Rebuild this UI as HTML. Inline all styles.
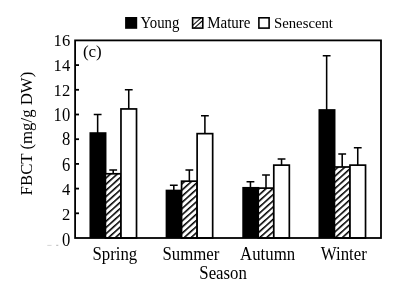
<!DOCTYPE html>
<html><head><meta charset="utf-8">
<style>
html,body{margin:0;padding:0;background:#fff;}
svg{display:block;}
text{font-family:"Liberation Serif","Times New Roman",serif;fill:#000;}
</style></head><body>
<svg width="411" height="289" viewBox="0 0 411 289">
<defs>
<pattern id="h" width="4" height="4.6" patternUnits="userSpaceOnUse" patternTransform="rotate(-42)">
<rect width="4" height="4.6" fill="#fff"/>
<rect y="0" width="4" height="1.55" fill="#000"/>
</pattern>
<pattern id="h2" width="6" height="14" patternUnits="userSpaceOnUse" patternTransform="translate(197.75,22.9) rotate(-42)">
<rect width="6" height="14" fill="#fff"/>
<rect y="1.0" width="6" height="1.1" fill="#000"/>
<rect y="11.9" width="6" height="1.1" fill="#000"/>
<rect y="4.4" width="6" height="0.8" fill="#aaa"/>
<rect y="8.8" width="6" height="0.8" fill="#aaa"/>
</pattern>
</defs>
<rect width="411" height="289" fill="#fff"/>
<rect x="125.1" y="17.0" width="12.1" height="11.8" fill="#000"/>
<text transform="translate(140.60,28.40) scale(1.0,1.07)" font-size="14.8" text-anchor="start">Young</text>
<rect x="192.6" y="17.8" width="10.2" height="10.3" fill="url(#h2)" stroke="#000" stroke-width="1.6"/>
<text transform="translate(207.20,28.40) scale(1.0,1.07)" font-size="15.0" text-anchor="start">Mature</text>
<rect x="258.9" y="17.8" width="10.2" height="10.3" fill="#fff" stroke="#000" stroke-width="1.6"/>
<text transform="translate(274.00,28.30) scale(1.0,1.06)" font-size="14.75" text-anchor="start">Senescent</text>
<rect x="89.47" y="132.22" width="17.00" height="105.77" fill="#000"/>
<path d="M97.65 133.03V114.50M93.75 114.50H101.55" stroke="#000" stroke-width="1.55" fill="none"/>
<rect x="105.42" y="173.78" width="15.55" height="64.22" fill="url(#h)" stroke="#000" stroke-width="1.7"/>
<path d="M113.20 173.78V170.07M109.30 170.07H117.10" stroke="#000" stroke-width="1.55" fill="none"/>
<rect x="120.97" y="108.94" width="15.55" height="129.06" fill="#fff" stroke="#000" stroke-width="1.7"/>
<path d="M128.75 108.94V89.80M124.85 89.80H132.65" stroke="#000" stroke-width="1.55" fill="none"/>
<rect x="165.62" y="189.65" width="17.00" height="48.35" fill="#000"/>
<path d="M173.80 190.45V185.27M169.90 185.27H177.70" stroke="#000" stroke-width="1.55" fill="none"/>
<rect x="181.57" y="181.19" width="15.55" height="56.81" fill="url(#h)" stroke="#000" stroke-width="1.7"/>
<path d="M189.35 181.19V170.07M185.45 170.07H193.25" stroke="#000" stroke-width="1.55" fill="none"/>
<rect x="197.12" y="133.64" width="15.55" height="104.36" fill="#fff" stroke="#000" stroke-width="1.7"/>
<path d="M204.90 133.64V115.73M201.00 115.73H208.80" stroke="#000" stroke-width="1.55" fill="none"/>
<rect x="242.28" y="186.94" width="17.00" height="51.06" fill="#000"/>
<path d="M250.45 187.74V181.81M246.55 181.81H254.35" stroke="#000" stroke-width="1.55" fill="none"/>
<rect x="258.23" y="188.11" width="15.55" height="49.89" fill="url(#h)" stroke="#000" stroke-width="1.7"/>
<path d="M266.00 188.11V175.02M262.10 175.02H269.90" stroke="#000" stroke-width="1.55" fill="none"/>
<rect x="273.78" y="165.13" width="15.55" height="72.87" fill="#fff" stroke="#000" stroke-width="1.7"/>
<path d="M281.55 165.13V158.96M277.65 158.96H285.45" stroke="#000" stroke-width="1.55" fill="none"/>
<rect x="318.48" y="109.13" width="17.00" height="128.87" fill="#000"/>
<path d="M326.65 109.93V55.84M322.75 55.84H330.55" stroke="#000" stroke-width="1.55" fill="none"/>
<rect x="334.43" y="166.99" width="15.55" height="71.01" fill="url(#h)" stroke="#000" stroke-width="1.7"/>
<path d="M342.20 166.99V154.02M338.30 154.02H346.10" stroke="#000" stroke-width="1.55" fill="none"/>
<rect x="349.98" y="165.13" width="15.55" height="72.87" fill="#fff" stroke="#000" stroke-width="1.7"/>
<path d="M357.75 165.13V147.84M353.85 147.84H361.65" stroke="#000" stroke-width="1.55" fill="none"/>
<rect x="75.1" y="40.4" width="305.9" height="197.6" fill="none" stroke="#000" stroke-width="1.8"/>
<text transform="translate(70.20,245.70) scale(1.0,1.13)" font-size="16.6" text-anchor="end">0</text>
<path d="M75.1 213.30H79.0" stroke="#000" stroke-width="1.8"/>
<text transform="translate(70.20,219.70) scale(1.0,1.04)" font-size="16.6" text-anchor="end">2</text>
<path d="M75.1 188.60H79.0" stroke="#000" stroke-width="1.8"/>
<text transform="translate(70.20,195.00) scale(1.0,1.04)" font-size="16.6" text-anchor="end">4</text>
<path d="M75.1 163.90H79.0" stroke="#000" stroke-width="1.8"/>
<text transform="translate(70.20,170.60) scale(1.0,1.1)" font-size="16.6" text-anchor="end">6</text>
<path d="M75.1 139.20H79.0" stroke="#000" stroke-width="1.8"/>
<text transform="translate(70.20,145.40) scale(1.0,1.08)" font-size="16.6" text-anchor="end">8</text>
<path d="M75.1 114.50H79.0" stroke="#000" stroke-width="1.8"/>
<text transform="translate(70.20,120.80) scale(1.0,1.09)" font-size="16.6" text-anchor="end">10</text>
<path d="M75.1 89.80H79.0" stroke="#000" stroke-width="1.8"/>
<text transform="translate(70.20,95.90) scale(1.0,1.04)" font-size="16.6" text-anchor="end">12</text>
<path d="M75.1 65.10H79.0" stroke="#000" stroke-width="1.8"/>
<text transform="translate(70.20,70.80) scale(1.0,1.04)" font-size="16.6" text-anchor="end">14</text>
<text transform="translate(70.20,46.10) scale(1.0,1.04)" font-size="16.6" text-anchor="end">16</text>
<text transform="translate(114.80,259.50) scale(1.0,1.08)" font-size="16.8" text-anchor="middle">Spring</text>
<text transform="translate(190.95,259.50) scale(1.0,1.08)" font-size="16.8" text-anchor="middle">Summer</text>
<text transform="translate(267.60,259.50) scale(1.0,1.08)" font-size="16.8" text-anchor="middle">Autumn</text>
<text transform="translate(343.80,259.50) scale(1.0,1.08)" font-size="16.8" text-anchor="middle">Winter</text>
<text transform="translate(82.90,57.00) scale(1.0,1.03)" font-size="17" text-anchor="start">(c)</text>
<text transform="translate(199.30,279.40) scale(1.0,1.1)" font-size="16.8" text-anchor="start">Season</text>
<text transform="translate(31.7,195.4) rotate(-90)" font-size="16.8">FBCT (mg/g DW)</text>
<path d="M47.3 245.4H51.6" stroke="#ccc" stroke-width="0.8"/>
<path d="M56.2 245.3H58.3" stroke="#aaa" stroke-width="0.9"/>
</svg>
</body></html>
